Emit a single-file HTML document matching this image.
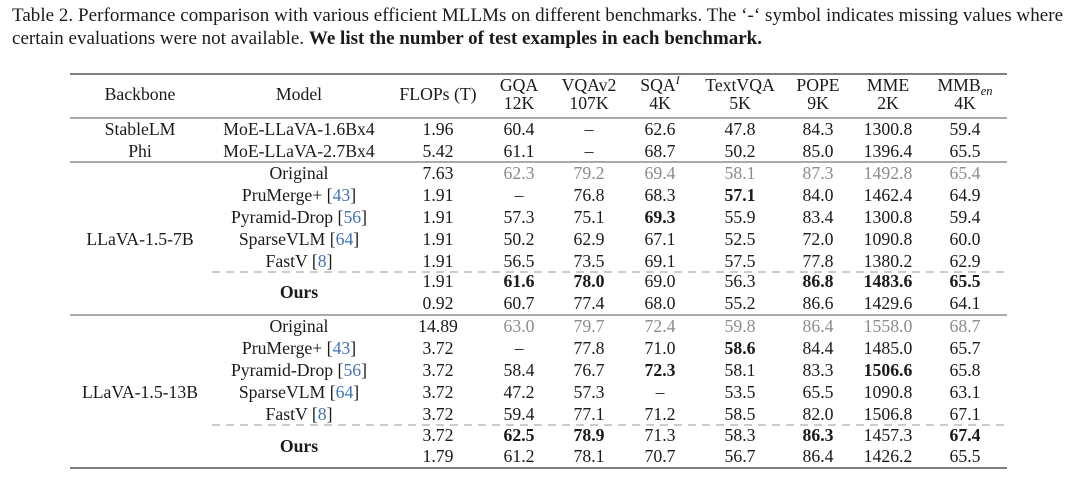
<!DOCTYPE html>
<html>
<head>
<meta charset="utf-8">
<style>
  html, body { margin: 0; padding: 0; background: #ffffff; }
  svg { display: block; }
  text { font-family: "Liberation Serif", "Times New Roman", serif; fill: #1a1a1a; }
  .t { font-size: 17.7px; text-anchor: middle; }
  .cap { font-size: 19px; }
  .g { fill: #8c8c8c; }
  .b { font-weight: bold; }
  .c { fill: #3f74b8; }
</style>
</head>
<body>
<svg width="1080" height="478" viewBox="0 0 1080 478" xmlns="http://www.w3.org/2000/svg">
  <!-- Caption -->
  <text class="cap" x="12" y="21" textLength="1051" lengthAdjust="spacing">Table 2. Performance comparison with various efficient MLLMs on different benchmarks. The ‘-‘ symbol indicates missing values where</text>
  <text class="cap" x="12" y="44" textLength="750" lengthAdjust="spacing">certain evaluations were not available. <tspan class="b">We list the number of test examples in each benchmark.</tspan></text>

  <!-- Rules -->
  <line x1="70" y1="74" x2="1007" y2="74" stroke="#555" stroke-width="1.6"/>
  <line x1="70" y1="118" x2="1007" y2="118" stroke="#555" stroke-width="1.1"/>
  <line x1="70" y1="162" x2="1007" y2="162" stroke="#555" stroke-width="1.1"/>
  <line x1="212" y1="272" x2="1007" y2="272" stroke="#999" stroke-width="1.1" stroke-dasharray="8 6"/>
  <line x1="70" y1="315" x2="1007" y2="315" stroke="#555" stroke-width="1.1"/>
  <line x1="212" y1="425" x2="1007" y2="425" stroke="#999" stroke-width="1.1" stroke-dasharray="8 6"/>
  <line x1="70" y1="468" x2="1007" y2="468" stroke="#555" stroke-width="1.6"/>

  <!-- Header -->
  <text class="t" x="140" y="100">Backbone</text>
  <text class="t" x="299" y="100">Model</text>
  <text class="t" x="438" y="100">FLOPs (T)</text>
  <text class="t" x="519" y="91">GQA</text>
  <text class="t" x="519" y="109">12K</text>
  <text class="t" x="589" y="91">VQAv2</text>
  <text class="t" x="589" y="109">107K</text>
  <text class="t" x="660" y="91">SQA<tspan font-style="italic" font-size="12px" dy="-7">I</tspan></text>
  <text class="t" x="660" y="109">4K</text>
  <text class="t" x="740" y="91">TextVQA</text>
  <text class="t" x="740" y="109">5K</text>
  <text class="t" x="818" y="91">POPE</text>
  <text class="t" x="818" y="109">9K</text>
  <text class="t" x="888" y="91">MME</text>
  <text class="t" x="888" y="109">2K</text>
  <text class="t" x="965" y="91">MMB<tspan font-style="italic" font-size="12.5px" dy="4">en</tspan></text>
  <text class="t" x="965" y="109">4K</text>

  <!-- Block 1 -->
  <text class="t" x="140" y="135">StableLM</text>
  <text class="t" x="299" y="135">MoE-LLaVA-1.6Bx4</text>
  <text class="t" x="438" y="135">1.96</text>
  <text class="t" x="519" y="135">60.4</text>
  <text class="t" x="589" y="135">–</text>
  <text class="t" x="660" y="135">62.6</text>
  <text class="t" x="740" y="135">47.8</text>
  <text class="t" x="818" y="135">84.3</text>
  <text class="t" x="888" y="135">1300.8</text>
  <text class="t" x="965" y="135">59.4</text>

  <text class="t" x="140" y="157">Phi</text>
  <text class="t" x="299" y="157">MoE-LLaVA-2.7Bx4</text>
  <text class="t" x="438" y="157">5.42</text>
  <text class="t" x="519" y="157">61.1</text>
  <text class="t" x="589" y="157">–</text>
  <text class="t" x="660" y="157">68.7</text>
  <text class="t" x="740" y="157">50.2</text>
  <text class="t" x="818" y="157">85.0</text>
  <text class="t" x="888" y="157">1396.4</text>
  <text class="t" x="965" y="157">65.5</text>

  <!-- Block 2: LLaVA-1.5-7B -->
  <text class="t" x="140" y="245">LLaVA-1.5-7B</text>

  <text class="t" x="299" y="179">Original</text>
  <text class="t" x="438" y="179">7.63</text>
  <text class="t g" x="519" y="179">62.3</text>
  <text class="t g" x="589" y="179">79.2</text>
  <text class="t g" x="660" y="179">69.4</text>
  <text class="t g" x="740" y="179">58.1</text>
  <text class="t g" x="818" y="179">87.3</text>
  <text class="t g" x="888" y="179">1492.8</text>
  <text class="t g" x="965" y="179">65.4</text>

  <text class="t" x="299" y="201">PruMerge+ [<tspan class="c">43</tspan>]</text>
  <text class="t" x="438" y="201">1.91</text>
  <text class="t" x="519" y="201">–</text>
  <text class="t" x="589" y="201">76.8</text>
  <text class="t" x="660" y="201">68.3</text>
  <text class="t b" x="740" y="201">57.1</text>
  <text class="t" x="818" y="201">84.0</text>
  <text class="t" x="888" y="201">1462.4</text>
  <text class="t" x="965" y="201">64.9</text>

  <text class="t" x="299" y="223">Pyramid-Drop [<tspan class="c">56</tspan>]</text>
  <text class="t" x="438" y="223">1.91</text>
  <text class="t" x="519" y="223">57.3</text>
  <text class="t" x="589" y="223">75.1</text>
  <text class="t b" x="660" y="223">69.3</text>
  <text class="t" x="740" y="223">55.9</text>
  <text class="t" x="818" y="223">83.4</text>
  <text class="t" x="888" y="223">1300.8</text>
  <text class="t" x="965" y="223">59.4</text>

  <text class="t" x="299" y="245">SparseVLM [<tspan class="c">64</tspan>]</text>
  <text class="t" x="438" y="245">1.91</text>
  <text class="t" x="519" y="245">50.2</text>
  <text class="t" x="589" y="245">62.9</text>
  <text class="t" x="660" y="245">67.1</text>
  <text class="t" x="740" y="245">52.5</text>
  <text class="t" x="818" y="245">72.0</text>
  <text class="t" x="888" y="245">1090.8</text>
  <text class="t" x="965" y="245">60.0</text>

  <text class="t" x="299" y="267">FastV [<tspan class="c">8</tspan>]</text>
  <text class="t" x="438" y="267">1.91</text>
  <text class="t" x="519" y="267">56.5</text>
  <text class="t" x="589" y="267">73.5</text>
  <text class="t" x="660" y="267">69.1</text>
  <text class="t" x="740" y="267">57.5</text>
  <text class="t" x="818" y="267">77.8</text>
  <text class="t" x="888" y="267">1380.2</text>
  <text class="t" x="965" y="267">62.9</text>

  <text class="t b" x="299" y="298">Ours</text>
  <text class="t" x="438" y="287">1.91</text>
  <text class="t b" x="519" y="287">61.6</text>
  <text class="t b" x="589" y="287">78.0</text>
  <text class="t" x="660" y="287">69.0</text>
  <text class="t" x="740" y="287">56.3</text>
  <text class="t b" x="818" y="287">86.8</text>
  <text class="t b" x="888" y="287">1483.6</text>
  <text class="t b" x="965" y="287">65.5</text>

  <text class="t" x="438" y="309">0.92</text>
  <text class="t" x="519" y="309">60.7</text>
  <text class="t" x="589" y="309">77.4</text>
  <text class="t" x="660" y="309">68.0</text>
  <text class="t" x="740" y="309">55.2</text>
  <text class="t" x="818" y="309">86.6</text>
  <text class="t" x="888" y="309">1429.6</text>
  <text class="t" x="965" y="309">64.1</text>

  <!-- Block 3: LLaVA-1.5-13B -->
  <text class="t" x="140" y="398">LLaVA-1.5-13B</text>

  <text class="t" x="299" y="332">Original</text>
  <text class="t" x="438" y="332">14.89</text>
  <text class="t g" x="519" y="332">63.0</text>
  <text class="t g" x="589" y="332">79.7</text>
  <text class="t g" x="660" y="332">72.4</text>
  <text class="t g" x="740" y="332">59.8</text>
  <text class="t g" x="818" y="332">86.4</text>
  <text class="t g" x="888" y="332">1558.0</text>
  <text class="t g" x="965" y="332">68.7</text>

  <text class="t" x="299" y="354">PruMerge+ [<tspan class="c">43</tspan>]</text>
  <text class="t" x="438" y="354">3.72</text>
  <text class="t" x="519" y="354">–</text>
  <text class="t" x="589" y="354">77.8</text>
  <text class="t" x="660" y="354">71.0</text>
  <text class="t b" x="740" y="354">58.6</text>
  <text class="t" x="818" y="354">84.4</text>
  <text class="t" x="888" y="354">1485.0</text>
  <text class="t" x="965" y="354">65.7</text>

  <text class="t" x="299" y="376">Pyramid-Drop [<tspan class="c">56</tspan>]</text>
  <text class="t" x="438" y="376">3.72</text>
  <text class="t" x="519" y="376">58.4</text>
  <text class="t" x="589" y="376">76.7</text>
  <text class="t b" x="660" y="376">72.3</text>
  <text class="t" x="740" y="376">58.1</text>
  <text class="t" x="818" y="376">83.3</text>
  <text class="t b" x="888" y="376">1506.6</text>
  <text class="t" x="965" y="376">65.8</text>

  <text class="t" x="299" y="398">SparseVLM [<tspan class="c">64</tspan>]</text>
  <text class="t" x="438" y="398">3.72</text>
  <text class="t" x="519" y="398">47.2</text>
  <text class="t" x="589" y="398">57.3</text>
  <text class="t" x="660" y="398">–</text>
  <text class="t" x="740" y="398">53.5</text>
  <text class="t" x="818" y="398">65.5</text>
  <text class="t" x="888" y="398">1090.8</text>
  <text class="t" x="965" y="398">63.1</text>

  <text class="t" x="299" y="420">FastV [<tspan class="c">8</tspan>]</text>
  <text class="t" x="438" y="420">3.72</text>
  <text class="t" x="519" y="420">59.4</text>
  <text class="t" x="589" y="420">77.1</text>
  <text class="t" x="660" y="420">71.2</text>
  <text class="t" x="740" y="420">58.5</text>
  <text class="t" x="818" y="420">82.0</text>
  <text class="t" x="888" y="420">1506.8</text>
  <text class="t" x="965" y="420">67.1</text>

  <text class="t b" x="299" y="452">Ours</text>
  <text class="t" x="438" y="441">3.72</text>
  <text class="t b" x="519" y="441">62.5</text>
  <text class="t b" x="589" y="441">78.9</text>
  <text class="t" x="660" y="441">71.3</text>
  <text class="t" x="740" y="441">58.3</text>
  <text class="t b" x="818" y="441">86.3</text>
  <text class="t" x="888" y="441">1457.3</text>
  <text class="t b" x="965" y="441">67.4</text>

  <text class="t" x="438" y="462">1.79</text>
  <text class="t" x="519" y="462">61.2</text>
  <text class="t" x="589" y="462">78.1</text>
  <text class="t" x="660" y="462">70.7</text>
  <text class="t" x="740" y="462">56.7</text>
  <text class="t" x="818" y="462">86.4</text>
  <text class="t" x="888" y="462">1426.2</text>
  <text class="t" x="965" y="462">65.5</text>
</svg>
</body>
</html>
